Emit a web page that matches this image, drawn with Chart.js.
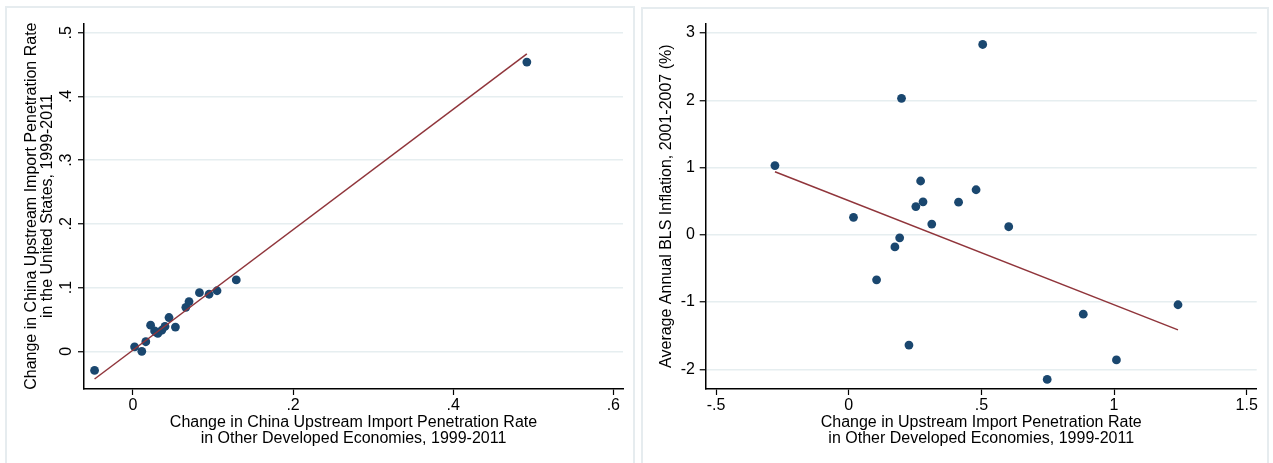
<!DOCTYPE html>
<html>
<head>
<meta charset="utf-8">
<script src="https://cdn.jsdelivr.net/npm/chart.js@4"></script>
<style>
  body { margin: 0; background: #fff; width: 1273px; height: 463px; overflow: hidden; position: relative; }
  .frame { position: absolute; border: 2px solid #e6ecef; box-sizing: border-box; }
  canvas { position: absolute; top: 0; }
</style>
</head>
<body>
<div class="frame" style="left:5px; top:6px; width:630px; height:470px;"></div>
<div class="frame" style="left:641px; top:7px; width:628px; height:470px;"></div>
<canvas id="leftChart" width="637" height="463" style="left:0px"></canvas>
<canvas id="rightChart" width="636" height="463" style="left:637px"></canvas>
<script>
// left panel: China upstream import penetration, US vs other developed economies
var leftX = [-0.048, 0.002, 0.011, 0.016, 0.022, 0.027, 0.029, 0.031, 0.036, 0.040, 0.045, 0.053, 0.066, 0.070, 0.083, 0.095, 0.105, 0.129, 0.492];
var leftY = [-0.030, 0.007, 0.000, 0.015, 0.041, 0.032, 0.030, 0.028, 0.033, 0.039, 0.053, 0.038, 0.069, 0.078, 0.092, 0.0895, 0.095, 0.112, 0.454];
var leftFitX = [-0.048, 0.492];
var leftFitY = [-0.0435, 0.4667];
var leftXTicks = [0, 0.2, 0.4, 0.6];
var leftXLabels = ['0', '.2', '.4', '.6'];
var leftYTicks = [0, 0.1, 0.2, 0.3, 0.4, 0.5];
var leftYLabels = ['0', '.1', '.2', '.3', '.4', '.5'];

// right panel: upstream import penetration vs BLS inflation
var rightX = [-0.278, 0.018, 0.105, 0.174, 0.192, 0.199, 0.227, 0.253, 0.271, 0.280, 0.313, 0.414, 0.480, 0.505, 0.603, 0.748, 0.884, 1.009, 1.241];
var rightY = [1.03, 0.26, -0.67, -0.18, -0.045, 2.03, -1.64, 0.42, 0.80, 0.49, 0.16, 0.485, 0.67, 2.83, 0.12, -2.15, -1.18, -1.86, -1.04];
var rightFitX = [-0.278, 1.241];
var rightFitY = [0.9375, -1.414];
var rightXTicks = [-0.5, 0, 0.5, 1, 1.5];
var rightXLabels = ['-.5', '0', '.5', '1', '1.5'];
var rightYTicks = [-2, -1, 0, 1, 2, 3];
var rightYLabels = ['-2', '-1', '0', '1', '2', '3'];

var FONT = "'Liberation Sans', Arial, sans-serif";
var TICK_SIZE = 16;
var dotColor = '#1a476f';
var fitColor = '#90353b';
var gridColor = '#e6eef0';

function toPoints(xs, ys) {
  var pts = [];
  for (var i = 0; i < xs.length; i++) {
    pts.push({ x: xs[i], y: ys[i] });
  }
  return pts;
}

function setTicks(values) {
  return function (scale) {
    scale.ticks = values.map(function (v) { return { value: v }; });
  };
}

// y tick labels of the left panel are turned on their side
var sideLabels = {
  id: 'sideLabels',
  afterDraw: function (chart, args, opts) {
    if (!opts.labels) return;
    var ctx = chart.ctx;
    var scale = chart.scales.y;
    ctx.save();
    ctx.font = TICK_SIZE + 'px ' + FONT;
    ctx.fillStyle = '#000';
    ctx.textAlign = 'center';
    ctx.textBaseline = 'middle';
    for (var i = 0; i < opts.values.length; i++) {
      var py = scale.getPixelForValue(opts.values[i]);
      ctx.save();
      ctx.translate(opts.x, py);
      ctx.rotate(-Math.PI / 2);
      ctx.fillText(opts.labels[i], 0, 0);
      ctx.restore();
    }
    ctx.restore();
  }
};

function makeChart(id, cfg) {
  var ctx = document.getElementById(id);
  return new Chart(ctx, {
    type: 'scatter',
    data: {
      datasets: [{
        type: 'line',
        data: toPoints(cfg.fitX, cfg.fitY),
        borderColor: fitColor,
        borderWidth: 1.5,
        pointRadius: 0,
        fill: false
      }, {
        data: toPoints(cfg.x, cfg.y),
        backgroundColor: dotColor,
        borderWidth: 0,
        pointRadius: 4.4,
        pointHoverRadius: 4.4
      }]
    },
    plugins: [sideLabels],
    options: {
      responsive: false,
      animation: false,
      layout: { padding: { left: 0, top: 23.3, right: cfg.padRight, bottom: 0 } },
      plugins: {
        legend: { display: false },
        tooltip: { enabled: false },
        sideLabels: cfg.side
      },
      scales: {
        x: {
          type: 'linear',
          min: cfg.xMin,
          max: cfg.xMax,
          afterBuildTicks: setTicks(cfg.xTicks),
          afterFit: function (s) { s.height = 74; },
          grid: { display: true, drawOnChartArea: false, drawTicks: true, tickLength: 6, tickColor: '#000', tickWidth: 1.2 },
          border: { display: true, color: '#000', width: 1.5 },
          ticks: {
            padding: 0.5,
            color: '#000',
            font: { family: FONT, size: TICK_SIZE },
            maxRotation: 0,
            autoSkip: false,
            callback: function (v, i) { return cfg.xLabels[i]; }
          },
          title: {
            display: true,
            text: cfg.xTitle,
            color: '#000',
            font: { family: FONT, size: 16, lineHeight: 1 },
            padding: { top: 0, bottom: 16.3 }
          }
        },
        y: {
          type: 'linear',
          min: cfg.yMin,
          max: cfg.yMax,
          afterBuildTicks: setTicks(cfg.yTicks),
          afterFit: function (s) { s.width = cfg.yWidth; },
          grid: { display: true, drawOnChartArea: true, color: gridColor, lineWidth: 1.5, drawTicks: true, tickLength: 6, tickColor: '#000', tickWidth: 1.2 },
          border: { display: true, color: '#000', width: 1.5 },
          ticks: {
            display: !cfg.side.labels,
            padding: 4.7,
            color: '#000',
            font: { family: FONT, size: TICK_SIZE },
            callback: function (v, i) { return cfg.yLabels[i]; }
          },
          title: {
            display: true,
            text: cfg.yTitle,
            color: '#000',
            font: { family: FONT, size: 16, lineHeight: 1 },
            padding: { top: cfg.yTitlePad, bottom: 0 }
          }
        }
      }
    }
  });
}

makeChart('leftChart', {
  x: leftX, y: leftY, fitX: leftFitX, fitY: leftFitY,
  xMin: -0.0612, xMax: 0.6121, yMin: -0.0592, yMax: 0.5148,
  xTicks: leftXTicks, xLabels: leftXLabels,
  yTicks: leftYTicks, yLabels: leftYLabels,
  yWidth: 84, padRight: 14, yTitlePad: 23.7,
  xTitle: ['Change in China Upstream Import Penetration Rate', 'in Other Developed Economies, 1999-2011'],
  yTitle: ['Change in China Upstream Import Penetration Rate', 'in the United States, 1999-2011'],
  side: { labels: leftYLabels, values: leftYTicks, x: 67 }
});

makeChart('rightChart', {
  x: rightX, y: rightY, fitX: rightFitX, fitY: rightFitY,
  xMin: -0.539, xMax: 1.5376, yMin: -2.293, yMax: 3.145,
  xTicks: rightXTicks, xLabels: rightXLabels,
  yTicks: rightYTicks, yLabels: rightYLabels,
  yWidth: 68.7, padRight: 16.3, yTitlePad: 21.7,
  xTitle: ['Change in Upstream Import Penetration Rate', 'in Other Developed Economies, 1999-2011'],
  yTitle: 'Average Annual BLS Inflation, 2001-2007 (%)',
  side: { labels: null }
});
</script>
</body>
</html>
